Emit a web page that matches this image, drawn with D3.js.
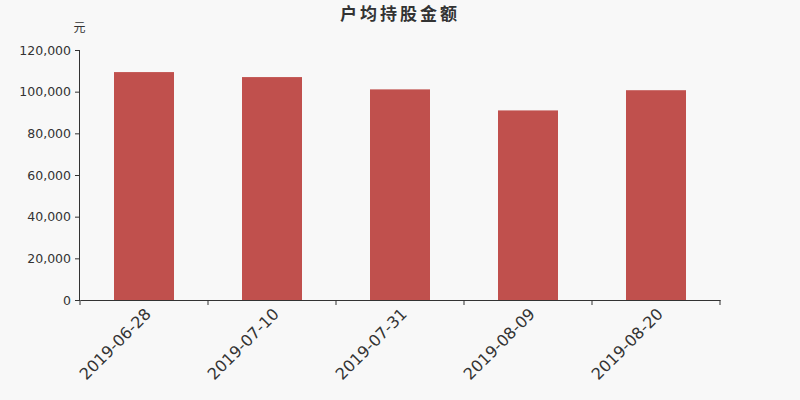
<!DOCTYPE html>
<html><head><meta charset="utf-8">
<script src="https://cdn.jsdelivr.net/npm/d3@7"></script>
<style>body{margin:0;background:#f8f8f8;}svg{display:block;}</style>
</head><body>
<svg id="c" width="800" height="400"></svg>
<script>
const categories = ["2019-06-28","2019-07-10","2019-07-31","2019-08-09","2019-08-20"];
const values = [109400, 107000, 101100, 91000, 100700];
const yTicks = [0,20000,40000,60000,80000,100000,120000];
const title = "户均持股金额";
const unit = "元";

const svg = d3.select("#c");
svg.append("rect").attr("width",800).attr("height",400).attr("fill","#f8f8f8");
const m = {l:80, r:720, t:50, b:300};
const x = d3.scaleBand().domain(categories).range([m.l,m.r]);
const y = d3.scaleLinear().domain([0,120000]).range([m.b,m.t]);
const font = "'DejaVu Sans', sans-serif";

svg.append("text").attr("x",400).attr("y",20).attr("text-anchor","middle")
  .attr("font-family","'Noto Sans CJK SC', sans-serif").attr("font-weight","bold")
  .attr("font-size",17).attr("letter-spacing",3).attr("fill","#333").text(title);
svg.append("text").attr("x",79.5).attr("y",32).attr("text-anchor","middle")
  .attr("font-family","'Noto Sans CJK SC', sans-serif").attr("font-size",12).attr("fill","#333").text(unit);

const bw = 60;
svg.append("g").selectAll("rect").data(values).enter().append("rect")
  .attr("x",(d,i)=>x(categories[i])+x.bandwidth()/2-bw/2)
  .attr("width",bw)
  .attr("y",d=>y(d)).attr("height",d=>y(0)-y(d))
  .attr("fill","#c0504d");

const ya = svg.append("g").attr("transform",`translate(${m.l},0)`)
  .call(d3.axisLeft(y).tickValues(yTicks).tickSize(5).tickPadding(4).tickFormat(d3.format(",")));
ya.select(".domain").attr("stroke","#333").attr("d",`M-0.5,${m.t}V${m.b}`);
ya.selectAll(".tick line").attr("stroke","#333");
ya.selectAll("text").attr("font-family",font).attr("font-size",12.5).attr("fill","#333");

const xa = svg.append("g").attr("transform",`translate(0,${m.b})`)
  .call(d3.axisBottom(x).tickSize(0).tickFormat(""));
xa.select(".domain").attr("stroke","#333");
xa.selectAll(".tick").remove();
const bounds = categories.map(c=>x(c)).concat([m.r]);
xa.selectAll("line.bt").data(bounds).enter().append("line").attr("class","bt")
  .attr("x1",d=>d).attr("x2",d=>d).attr("y1",0).attr("y2",5).attr("stroke","#333");
xa.selectAll("text.lb").data(categories).enter().append("text").attr("class","lb")
  .attr("transform",d=>`translate(${x(d)+x.bandwidth()/2},7) rotate(-45)`)
  .attr("text-anchor","end").attr("dy","0.71em")
  .attr("font-family",font).attr("font-size",16).attr("fill","#333").text(d=>d);
</script>
</body></html>
